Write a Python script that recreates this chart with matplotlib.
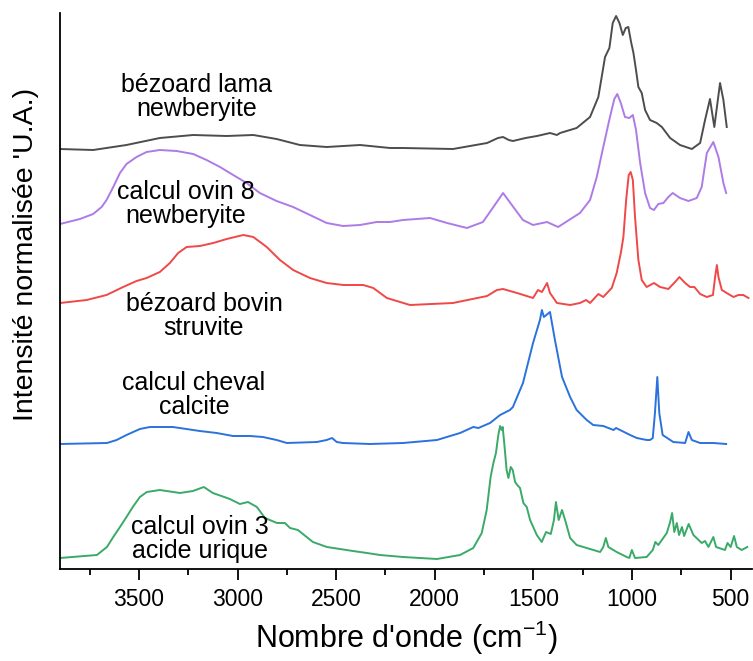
import matplotlib
matplotlib.use("Agg")
import matplotlib.pyplot as plt

plt.rcParams['font.family'] = ['Liberation Sans', 'DejaVu Sans']
plt.rcParams['mathtext.fontset'] = 'custom'
plt.rcParams['mathtext.rm'] = 'Liberation Sans'
plt.rcParams['mathtext.it'] = 'Liberation Sans:italic'

# ---- data (wavenumber cm-1, normalised intensity with stacking offset) ----
lama_wn = [3900, 3732, 3563, 3394, 3225, 3055, 2920, 2802, 2684, 2548, 2379, 2227,
           2161, 1908, 1735, 1680, 1654, 1625, 1604, 1540, 1482, 1416, 1381, 1365,
           1281, 1213, 1171, 1154, 1137, 1115, 1098, 1081, 1064, 1047, 1032, 1019,
           1005, 993, 980, 968, 951, 934, 909, 875, 849, 807, 757, 697, 655, 630,
           605, 583, 554, 537, 520]
lama_int = [419, 418, 423, 430, 433, 432, 433, 429, 423, 421, 423, 420,
            420, 419, 425, 430, 431, 428, 427, 430, 432, 435, 433, 435,
            440, 451, 471, 491, 511, 520, 545, 552, 545, 533, 540, 541,
            526, 515, 498, 481, 475, 458, 448, 445, 441, 430, 423, 419, 425, 448,
            469, 441, 485, 468, 441]

ovin8_wn = [3900, 3799, 3732, 3689, 3664, 3630, 3596, 3563, 3512, 3461, 3394, 3309,
            3225, 3157, 3089, 3022, 2954, 2887, 2802, 2718, 2633, 2548, 2464, 2379,
            2295, 2227, 2161, 2024, 1938, 1837, 1756, 1703, 1654, 1602, 1553, 1502,
            1431, 1375, 1264, 1213, 1179, 1146, 1112, 1090, 1075, 1057, 1036, 1014,
            996, 980, 959, 934, 909, 889, 867, 841, 816, 794, 757, 714, 672, 647,
            621, 588, 562, 537, 523]
ovin8_int = [344, 349, 354, 361, 368, 381, 395, 404, 411, 416, 418, 417,
             414, 408, 401, 393, 385, 375, 367, 361, 353, 345, 342, 343,
             346, 346, 348, 350, 345, 340, 346, 361, 375, 361, 348, 343,
             346, 341, 355, 368, 391, 421, 451, 469, 474, 465, 451, 450,
             453, 438, 405, 375, 360, 358, 364, 365, 371, 375, 370, 367, 370, 381,
             415, 426, 411, 385, 375]

bovin_wn = [3900, 3765, 3664, 3580, 3512, 3461, 3394, 3343, 3301, 3258, 3191, 3123,
            3055, 2971, 2920, 2852, 2785, 2718, 2633, 2548, 2464, 2363, 2312, 2243,
            2126, 1908, 1735, 1685, 1654, 1583, 1502, 1477, 1457, 1431, 1416, 1381,
            1314, 1264, 1233, 1213, 1171, 1146, 1103, 1078, 1057, 1044, 1030, 1017,
            1007, 996, 985, 968, 951, 926, 889, 858, 816, 782, 760, 731, 706, 684,
            655, 621, 590, 579, 570, 562, 545, 512, 486, 461, 436, 410]
bovin_int = [265, 268, 273, 281, 287, 290, 296, 305, 315, 321, 322, 325,
             329, 333, 331, 321, 308, 298, 290, 285, 283, 283, 280, 270,
             263, 265, 272, 278, 279, 275, 270, 278, 276, 285, 275, 265,
             263, 265, 268, 265, 274, 271, 280, 295, 315, 331, 368, 393,
             396, 388, 351, 308, 288, 281, 285, 281, 279, 286, 291, 285, 281, 281,
             274, 271, 273, 291, 303, 291, 278, 274, 271, 273, 273, 270]

cheval_wn = [3900, 3662, 3613, 3563, 3495, 3444, 3328, 3191, 3106, 3023, 2937, 2871,
             2802, 2750, 2598, 2548, 2521, 2497, 2466, 2329, 2161, 1989, 1872, 1805,
             1779, 1720, 1669, 1619, 1604, 1553, 1502, 1467, 1457, 1447, 1416, 1391,
             1355, 1314, 1281, 1230, 1197, 1146, 1094, 1081, 1010, 976, 926, 909,
             895, 884, 872, 862, 845, 791, 731, 714, 697, 655, 588, 523]
cheval_int = [124, 125, 128, 133, 139, 141, 141, 137, 135, 132, 132, 131,
              128, 125, 126, 128, 130, 126, 125, 124, 125, 128, 135, 141,
              140, 145, 153, 158, 161, 185, 225, 248, 258, 251, 256, 228,
              191, 171, 158, 148, 143, 142, 138, 140, 133, 130, 128, 128,
              130, 155, 191, 155, 133, 126, 125, 136, 128, 125, 125, 124]

ovin3_wn = [3900, 3713, 3662, 3630, 3596, 3563, 3531, 3495, 3460, 3394, 3292, 3226,
            3171, 3125, 3039, 2988, 2947, 2902, 2861, 2800, 2760, 2734, 2694, 2618,
            2547, 2415, 2344, 2278, 2161, 1989, 1872, 1805, 1762, 1737, 1717, 1703,
            1690, 1678, 1669, 1661, 1656, 1648, 1636, 1627, 1615, 1605, 1593, 1582,
            1568, 1551, 1534, 1517, 1483, 1458, 1436, 1412, 1396, 1386, 1372, 1355,
            1335, 1314, 1281, 1230, 1162, 1146, 1133, 1120, 1078, 1027, 1014, 1001,
            985, 926, 895, 882, 867, 824, 807, 797, 786, 773, 762, 747, 736, 713,
            689, 647, 630, 613, 588, 574, 529, 516, 500, 483, 469, 444, 416]
ovin3_int = [10, 13, 21, 31, 41, 51, 61, 71, 76, 78, 75, 77,
             81, 75, 69, 64, 66, 61, 50, 45, 45, 40, 38, 26,
             21, 17, 15, 13, 11, 9, 13, 20, 35, 58, 91, 105,
             115, 133, 142, 138, 141, 125, 98, 90, 101, 98, 86, 83,
             80, 65, 61, 48, 33, 26, 36, 34, 48, 66, 48, 58,
             45, 30, 23, 20, 16, 21, 30, 21, 16, 11, 10, 18,
             10, 11, 18, 26, 23, 35, 46, 55, 36, 45, 33, 41, 32, 44,
             33, 25, 27, 21, 31, 21, 18, 25, 21, 32, 21, 18, 21]

series = [
    (lama_wn, lama_int, '#4d4d4d', "bézoard lama\nnewberyite", 3206, 471),
    (ovin8_wn, ovin8_int, '#ad7be6', "calcul ovin 8\nnewberyite", 3262, 364),
    (bovin_wn, bovin_int, '#f04848', "bézoard bovin\nstruvite", 3170, 252),
    (cheval_wn, cheval_int, '#2a72dc', "calcul cheval\ncalcite", 3221, 173),
    (ovin3_wn, ovin3_int, '#3aaa68', "calcul ovin 3\nacide urique", 3191, 29),
]

fig = plt.figure(figsize=(7.53, 6.61), dpi=100)
ax = fig.add_axes([60 / 753, (661 - 569) / 661, 692 / 753, 556 / 661])

for wn, inten, col, lab, tx, ty in series:
    ax.plot(wn, inten, color=col, lw=1.4, solid_joinstyle='round')
    ax.text(tx, ty, lab, ha='center', va='center', fontsize=18, linespacing=1.0,
            color='black')

ax.set_xlim(3900, 392)
ax.set_ylim(-1, 555)

ax.set_xticks([3500, 3000, 2500, 2000, 1500, 1000, 500])
ax.set_xticks([3750, 3250, 2750, 2250, 1750, 1250, 750], minor=True)
ax.tick_params(axis='x', which='major', length=8, width=1.3, labelsize=16.5, pad=6)
ax.tick_params(axis='x', which='minor', length=4.5, width=1.3)
ax.set_yticks([])

for s in ['top', 'right']:
    ax.spines[s].set_visible(False)
for s in ['left', 'bottom']:
    ax.spines[s].set_linewidth(1.3)

ax.set_xlabel("Nombre d'onde (cm$^{-1}$)", fontsize=22)
ax.xaxis.set_label_coords(0.5, -0.09)
ax.set_ylabel("Intensité normalisée 'U.A.)", fontsize=20.5)
ax.yaxis.set_label_coords(-0.031, 0.5665)

fig.savefig("out.png", dpi=100)
